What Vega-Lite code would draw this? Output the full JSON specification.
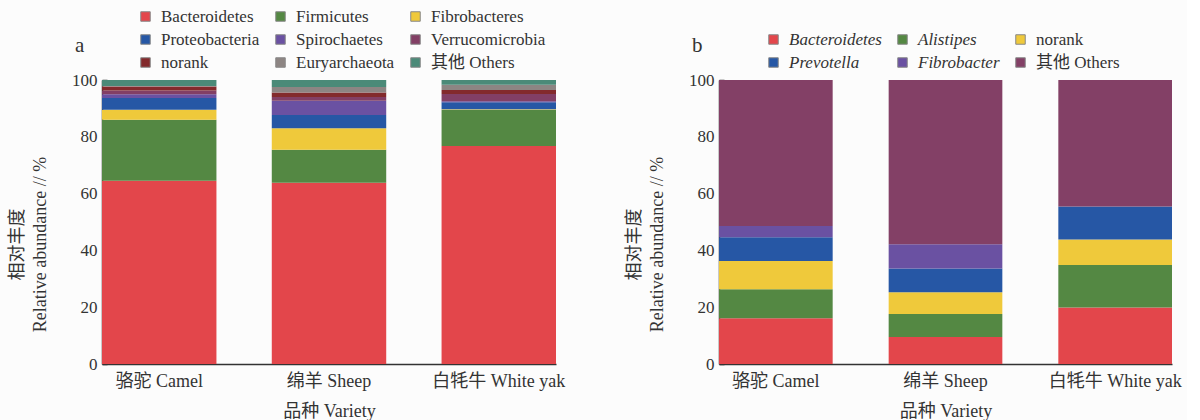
{
  "$schema": "https://vega.github.io/schema/vega-lite/v6.json",
  "background": "#fcfcfc",
  "padding": {"left": 8, "top": 8, "right": 5, "bottom": 5},
  "spacing": 163,
  "bounds": "flush",
  "config": {
    "view": {"stroke": null},
    "font": "Liberation Serif, Noto Sans CJK SC",
    "axis": {"grid": false, "domainColor": "#333", "domainWidth": 1.5, "labelColor": "#333", "titleColor": "#333", "titleFontWeight": "normal", "labelFont": "Liberation Serif, Noto Sans CJK SC", "titleFont": "Liberation Serif, Noto Sans CJK SC"},
    "legend": {"labelFont": "Liberation Serif, Noto Sans CJK SC", "labelColor": "#333"},
    "title": {"font": "Liberation Serif", "fontWeight": "normal", "fontSize": 21, "color": "#333"}
  },
  "datasets": {
    "a": [
      {"v": "骆驼 Camel", "t": "Bacteroidetes", "p": 64.5, "k": 1},
      {"v": "骆驼 Camel", "t": "Firmicutes", "p": 21.5, "k": 2},
      {"v": "骆驼 Camel", "t": "Fibrobacteres", "p": 3.5, "k": 3},
      {"v": "骆驼 Camel", "t": "Proteobacteria", "p": 4.2, "k": 4},
      {"v": "骆驼 Camel", "t": "Spirochaetes", "p": 1.3, "k": 5},
      {"v": "骆驼 Camel", "t": "Verrucomicrobia", "p": 1.3, "k": 6},
      {"v": "骆驼 Camel", "t": "norank", "p": 1.4, "k": 7},
      {"v": "骆驼 Camel", "t": "Euryarchaeota", "p": 0.2, "k": 8},
      {"v": "骆驼 Camel", "t": "其他 Others", "p": 2.1, "k": 9},
      {"v": "绵羊 Sheep", "t": "Bacteroidetes", "p": 63.8, "k": 1},
      {"v": "绵羊 Sheep", "t": "Firmicutes", "p": 11.6, "k": 2},
      {"v": "绵羊 Sheep", "t": "Fibrobacteres", "p": 7.6, "k": 3},
      {"v": "绵羊 Sheep", "t": "Proteobacteria", "p": 4.7, "k": 4},
      {"v": "绵羊 Sheep", "t": "Spirochaetes", "p": 5.0, "k": 5},
      {"v": "绵羊 Sheep", "t": "Verrucomicrobia", "p": 1.3, "k": 6},
      {"v": "绵羊 Sheep", "t": "norank", "p": 1.6, "k": 7},
      {"v": "绵羊 Sheep", "t": "Euryarchaeota", "p": 1.9, "k": 8},
      {"v": "绵羊 Sheep", "t": "其他 Others", "p": 2.5, "k": 9},
      {"v": "白牦牛 White yak", "t": "Bacteroidetes", "p": 76.8, "k": 1},
      {"v": "白牦牛 White yak", "t": "Firmicutes", "p": 12.7, "k": 2},
      {"v": "白牦牛 White yak", "t": "Fibrobacteres", "p": 0.2, "k": 3},
      {"v": "白牦牛 White yak", "t": "Proteobacteria", "p": 2.5, "k": 4},
      {"v": "白牦牛 White yak", "t": "Spirochaetes", "p": 0.3, "k": 5},
      {"v": "白牦牛 White yak", "t": "Verrucomicrobia", "p": 2.6, "k": 6},
      {"v": "白牦牛 White yak", "t": "norank", "p": 1.4, "k": 7},
      {"v": "白牦牛 White yak", "t": "Euryarchaeota", "p": 1.8, "k": 8},
      {"v": "白牦牛 White yak", "t": "其他 Others", "p": 1.7, "k": 9}
    ],
    "b": [
      {"v": "骆驼 Camel", "t": "Bacteroidetes", "p": 16.1, "k": 1},
      {"v": "骆驼 Camel", "t": "Alistipes", "p": 10.2, "k": 2},
      {"v": "骆驼 Camel", "t": "norank", "p": 10.0, "k": 3},
      {"v": "骆驼 Camel", "t": "Prevotella", "p": 8.3, "k": 4},
      {"v": "骆驼 Camel", "t": "Fibrobacter", "p": 4.0, "k": 5},
      {"v": "骆驼 Camel", "t": "其他 Others", "p": 51.4, "k": 6},
      {"v": "绵羊 Sheep", "t": "Bacteroidetes", "p": 9.5, "k": 1},
      {"v": "绵羊 Sheep", "t": "Alistipes", "p": 8.1, "k": 2},
      {"v": "绵羊 Sheep", "t": "norank", "p": 7.7, "k": 3},
      {"v": "绵羊 Sheep", "t": "Prevotella", "p": 8.3, "k": 4},
      {"v": "绵羊 Sheep", "t": "Fibrobacter", "p": 8.6, "k": 5},
      {"v": "绵羊 Sheep", "t": "其他 Others", "p": 57.8, "k": 6},
      {"v": "白牦牛 White yak", "t": "Bacteroidetes", "p": 19.9, "k": 1},
      {"v": "白牦牛 White yak", "t": "Alistipes", "p": 15.0, "k": 2},
      {"v": "白牦牛 White yak", "t": "norank", "p": 8.9, "k": 3},
      {"v": "白牦牛 White yak", "t": "Prevotella", "p": 11.7, "k": 4},
      {"v": "白牦牛 White yak", "t": "Fibrobacter", "p": 0.0, "k": 5},
      {"v": "白牦牛 White yak", "t": "其他 Others", "p": 44.5, "k": 6}
    ]
  },
  "resolve": {"scale": {"color": "independent"}, "legend": {"color": "independent"}},
  "hconcat": [
    {
      "width": 454,
      "height": 284,
      "title": {"text": "a", "anchor": "start", "frame": "group", "dx": -27, "dy": 52},
      "data": {"name": "a"},
      "mark": {"type": "bar"},
      "encoding": {
        "x": {"field": "v", "type": "nominal", "sort": ["骆驼 Camel", "绵羊 Sheep", "白牦牛 White yak"],
              "scale": {"paddingInner": 0.326, "paddingOuter": 0},
              "axis": {"title": "品种 Variety", "labelAngle": 0, "ticks": false, "labelPadding": 8, "labelFontSize": 18, "titleFontSize": 18, "titlePadding": 12}},
        "y": {"field": "p", "type": "quantitative", "stack": "zero", "scale": {"domain": [0, 100], "nice": false},
              "axis": {"title": ["相对丰度", "Relative abundance // %"], "values": [0, 20, 40, 60, 80, 100], "tickSize": -5, "tickColor": "#333", "tickWidth": 1.5, "labelPadding": 10, "labelFontSize": 17, "titleFontSize": 18, "titleLineHeight": 23, "titlePadding": 22, "titleY": 164}},
        "color": {"field": "t", "type": "nominal",
                  "scale": {"domain": ["Bacteroidetes", "Firmicutes", "Fibrobacteres", "Proteobacteria", "Spirochaetes", "Verrucomicrobia", "norank", "Euryarchaeota", "其他 Others"],
                            "range": ["#e3464b", "#548843", "#efc93b", "#2657a5", "#6a51a2", "#823f65", "#832a2c", "#8d8583", "#4b8a78"]},
                  "legend": {"title": null, "orient": "none", "legendX": 35, "legendY": -72, "direction": "horizontal", "columns": 3, "gridAlign": "none",
                             "symbolType": "square", "symbolSize": 90, "symbolStrokeColor": "#888", "symbolStrokeWidth": 1, "labelFontSize": 17, "labelOffset": 7, "rowPadding": 5, "columnPadding": 12, "labelLimit": 300}},
        "order": {"field": "k", "sort": "ascending"}
      }
    },
    {
      "width": 453,
      "height": 284,
      "title": {"text": "b", "anchor": "start", "frame": "group", "dx": -27, "dy": 29},
      "data": {"name": "b"},
      "mark": {"type": "bar"},
      "encoding": {
        "x": {"field": "v", "type": "nominal", "sort": ["骆驼 Camel", "绵羊 Sheep", "白牦牛 White yak"],
              "scale": {"paddingInner": 0.33, "paddingOuter": 0},
              "axis": {"title": "品种 Variety", "labelAngle": 0, "ticks": false, "labelPadding": 8, "labelFontSize": 18, "titleFontSize": 18, "titlePadding": 12}},
        "y": {"field": "p", "type": "quantitative", "stack": "zero", "scale": {"domain": [0, 100], "nice": false},
              "axis": {"title": ["相对丰度", "Relative abundance // %"], "values": [0, 20, 40, 60, 80, 100], "tickSize": -5, "tickColor": "#333", "tickWidth": 1.5, "labelPadding": 10, "labelFontSize": 17, "titleFontSize": 18, "titleLineHeight": 23, "titlePadding": 22, "titleY": 164}},
        "color": {"field": "t", "type": "nominal",
                  "scale": {"domain": ["Bacteroidetes", "Alistipes", "norank", "Prevotella", "Fibrobacter", "其他 Others"],
                            "range": ["#e3464b", "#548843", "#efc93b", "#2657a5", "#6a51a2", "#834066"]},
                  "legend": {"title": null, "orient": "none", "legendX": 46, "legendY": -49, "direction": "horizontal", "columns": 3, "gridAlign": "none",
                             "symbolType": "square", "symbolSize": 90, "symbolStrokeColor": "#888", "symbolStrokeWidth": 1, "labelFontSize": 17, "labelOffset": 7, "rowPadding": 5, "columnPadding": 12, "labelLimit": 300,
                             "encode": {"labels": {"update": {"fontStyle": {"signal": "datum.label === 'norank' || datum.label === '其他 Others' ? 'normal' : 'italic'"}}}}}},
        "order": {"field": "k", "sort": "ascending"}
      }
    }
  ]
}
